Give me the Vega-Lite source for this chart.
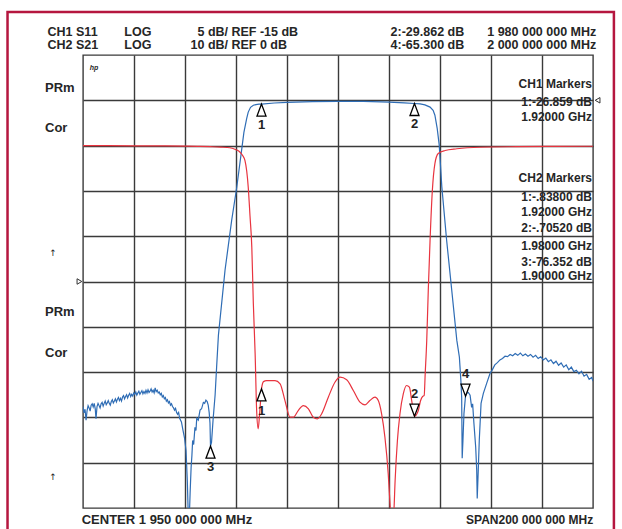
{
"$schema": "https://vega.github.io/schema/vega-lite/v6.json",
"width": 510, "height": 453,
"autosize": {"type": "none"},
"padding": {"left": 83, "top": 55, "right": 29, "bottom": 21},
"background": "white",
"config": {"view": {"stroke": "#3a3a3a", "strokeWidth": 1.4}, "text": {"font": "Liberation Sans", "color": "#262626"}},
"datasets": {
"s21": [
{"f":1850.0,"db":-67.6},{"f":1850.4,"db":-69.0},{"f":1850.8,"db":-68.2},{"f":1851.2,"db":-70.6},{"f":1851.6,"db":-68.5},{"f":1852.0,"db":-67.4},{"f":1852.4,"db":-67.9},{"f":1852.8,"db":-68.6},{"f":1853.2,"db":-67.3},{"f":1853.6,"db":-67.0},{"f":1854.0,"db":-67.7},{"f":1854.4,"db":-66.9},{"f":1854.8,"db":-68.1},{"f":1855.1,"db":-70.3},{"f":1855.5,"db":-67.6},{"f":1855.9,"db":-66.9},{"f":1856.3,"db":-67.4},{"f":1856.7,"db":-67.9},{"f":1857.1,"db":-67.0},{"f":1857.5,"db":-66.7},{"f":1857.9,"db":-67.5},{"f":1858.3,"db":-66.9},{"f":1858.7,"db":-66.4},{"f":1859.1,"db":-67.2},{"f":1859.5,"db":-66.8},{"f":1859.9,"db":-66.3},{"f":1860.3,"db":-66.9},{"f":1860.7,"db":-67.3},{"f":1861.1,"db":-66.5},{"f":1861.5,"db":-66.1},{"f":1861.9,"db":-66.8},{"f":1862.3,"db":-66.4},{"f":1862.7,"db":-65.9},{"f":1863.1,"db":-66.6},{"f":1863.5,"db":-66.0},{"f":1863.9,"db":-65.6},{"f":1864.3,"db":-66.3},{"f":1864.7,"db":-65.8},{"f":1865.1,"db":-66.4},{"f":1865.5,"db":-65.5},{"f":1865.9,"db":-65.2},{"f":1866.3,"db":-65.9},{"f":1866.7,"db":-65.4},{"f":1867.1,"db":-65.0},{"f":1867.5,"db":-65.7},{"f":1867.9,"db":-65.1},{"f":1868.3,"db":-64.7},{"f":1868.7,"db":-65.4},{"f":1869.1,"db":-64.9},{"f":1869.5,"db":-65.3},{"f":1869.9,"db":-64.6},{"f":1870.3,"db":-64.9},{"f":1870.7,"db":-64.4},{"f":1871.1,"db":-65.1},{"f":1871.5,"db":-64.6},{"f":1871.9,"db":-64.2},{"f":1872.3,"db":-64.9},{"f":1872.7,"db":-64.5},{"f":1873.1,"db":-64.1},{"f":1873.5,"db":-64.8},{"f":1873.9,"db":-64.3},{"f":1874.3,"db":-64.7},{"f":1874.7,"db":-64.0},{"f":1875.1,"db":-64.6},{"f":1875.5,"db":-63.9},{"f":1875.9,"db":-64.5},{"f":1876.3,"db":-64.2},{"f":1876.7,"db":-63.7},{"f":1877.1,"db":-64.4},{"f":1877.5,"db":-64.0},{"f":1877.9,"db":-64.6},{"f":1878.3,"db":-63.5},{"f":1878.7,"db":-64.3},{"f":1879.1,"db":-64.0},{"f":1879.5,"db":-64.6},{"f":1879.9,"db":-64.4},{"f":1880.3,"db":-65.0},{"f":1880.7,"db":-64.7},{"f":1881.1,"db":-65.5},{"f":1881.5,"db":-65.2},{"f":1881.9,"db":-65.9},{"f":1882.3,"db":-65.6},{"f":1882.7,"db":-66.4},{"f":1883.1,"db":-66.1},{"f":1883.5,"db":-66.8},{"f":1883.9,"db":-66.5},{"f":1884.3,"db":-67.3},{"f":1884.7,"db":-67.0},{"f":1885.1,"db":-67.6},{"f":1885.5,"db":-67.9},{"f":1885.9,"db":-68.4},{"f":1886.3,"db":-68.0},{"f":1886.7,"db":-68.9},{"f":1887.1,"db":-69.3},{"f":1887.5,"db":-68.9},{"f":1887.9,"db":-70.2},
{"f":1888.6,"db":-71.0},{"f":1889.2,"db":-72.8},{"f":1889.8,"db":-74.5},{"f":1890.4,"db":-77.3},{"f":1890.9,"db":-83.9},{"f":1891.3,"db":-92},{"f":1891.7,"db":-92},{"f":1892.0,"db":-86.8},{"f":1892.4,"db":-81.0},{"f":1892.7,"db":-78.5},{"f":1893.0,"db":-75.1},{"f":1893.4,"db":-76.0},{"f":1893.9,"db":-72.2},{"f":1894.3,"db":-72.9},{"f":1894.6,"db":-70.2},{"f":1895.2,"db":-70.6},{"f":1895.9,"db":-68.4},{"f":1896.5,"db":-68.1},{"f":1897.2,"db":-66.7},{"f":1897.7,"db":-66.9},{"f":1898.2,"db":-66.2},{"f":1898.7,"db":-66.5},{"f":1899.1,"db":-67.3},{"f":1899.5,"db":-69.0},{"f":1899.8,"db":-71.3},{"f":1900.0,"db":-76.35},{"f":1900.4,"db":-75.5},{"f":1901.0,"db":-70.6},{"f":1901.8,"db":-65.1},{"f":1902.4,"db":-58.9},{"f":1903.1,"db":-51.9},{"f":1905.7,"db":-37.5},{"f":1908.3,"db":-26.5},{"f":1910.3,"db":-19.2},{"f":1912.2,"db":-11.0},{"f":1913.1,"db":-7.1},{"f":1914.2,"db":-4.0},{"f":1914.8,"db":-2.6},{"f":1915.7,"db":-1.55},{"f":1916.8,"db":-1.1},{"f":1917.8,"db":-0.95},{"f":1919.0,"db":-0.86},{"f":1920.0,"db":-0.838},{"f":1925,"db":-0.6},{"f":1930,"db":-0.45},{"f":1940,"db":-0.3},{"f":1950,"db":-0.22},{"f":1960,"db":-0.25},{"f":1970,"db":-0.4},{"f":1976,"db":-0.55},{"f":1980.0,"db":-0.705},{"f":1982.2,"db":-0.8},{"f":1984.1,"db":-1.0},{"f":1986.1,"db":-1.5},{"f":1987.3,"db":-2.2},{"f":1988.0,"db":-3.3},{"f":1988.9,"db":-6.2},{"f":1989.7,"db":-9.9},{"f":1990.7,"db":-19.0},{"f":1992.6,"db":-30.9},{"f":1994.6,"db":-41.9},{"f":1996.6,"db":-53.0},{"f":1997.6,"db":-56.7},{"f":1998.2,"db":-62.0},{"f":1998.5,"db":-65.6},{"f":1998.7,"db":-79.0},{"f":1999.0,"db":-75.1},{"f":1999.4,"db":-69.1},{"f":2000.0,"db":-65.3},{"f":2000.6,"db":-64.6},{"f":2001.1,"db":-64.5},{"f":2001.8,"db":-65.1},{"f":2002.4,"db":-67.8},{"f":2002.8,"db":-67.0},{"f":2003.3,"db":-71.3},{"f":2004.0,"db":-76.6},{"f":2004.4,"db":-81.7},{"f":2004.6,"db":-87.9},{"f":2005.0,"db":-81.7},{"f":2005.4,"db":-75.1},{"f":2006.1,"db":-66.9},{"f":2007.0,"db":-64.7},{"f":2008.3,"db":-62.5},{"f":2009.6,"db":-60.3},
{"f":2010.5,"db":-59.5},{"f":2011.5,"db":-58.4},{"f":2012.5,"db":-57.9},{"f":2013.5,"db":-57.3},{"f":2014.5,"db":-57.0},{"f":2015.5,"db":-56.5},{"f":2016.5,"db":-56.6},{"f":2017.5,"db":-56.1},{"f":2018.5,"db":-56.4},{"f":2019.5,"db":-55.9},{"f":2020.5,"db":-56.3},{"f":2021.5,"db":-55.8},{"f":2022.5,"db":-56.4},{"f":2023.5,"db":-56.0},{"f":2024.5,"db":-56.5},{"f":2025.5,"db":-56.1},{"f":2026.5,"db":-56.7},{"f":2027.5,"db":-56.3},{"f":2028.5,"db":-57.0},{"f":2029.5,"db":-56.6},{"f":2030.5,"db":-57.3},{"f":2031.5,"db":-56.9},{"f":2032.5,"db":-57.7},{"f":2033.5,"db":-57.3},{"f":2034.5,"db":-58.1},{"f":2035.5,"db":-57.6},{"f":2036.5,"db":-58.5},{"f":2037.5,"db":-58.0},{"f":2038.5,"db":-58.9},{"f":2039.5,"db":-58.4},{"f":2040.5,"db":-59.5},{"f":2041.5,"db":-58.9},{"f":2042.5,"db":-59.9},{"f":2043.5,"db":-59.6},{"f":2044.5,"db":-60.4},{"f":2045.5,"db":-59.8},{"f":2046.5,"db":-60.9},{"f":2047.5,"db":-60.5},{"f":2048.5,"db":-61.6},{"f":2049.5,"db":-61.2},{"f":2050.0,"db":-62.0}
],
"s11": [
{"f":1850,"db":0.0},{"f":1860,"db":-0.01},{"f":1870,"db":-0.02},{"f":1880,"db":-0.03},{"f":1890,"db":-0.05},{"f":1896,"db":-0.08},{"f":1900,"db":-0.12},{"f":1904,"db":-0.17},{"f":1907.6,"db":-0.24},{"f":1910,"db":-0.45},{"f":1911.6,"db":-0.73},{"f":1912.6,"db":-1.1},{"f":1913.5,"db":-1.64},{"f":1914.2,"db":-2.8},{"f":1914.8,"db":-4.59},{"f":1915.5,"db":-7.8},{"f":1916.2,"db":-11.21},{"f":1916.8,"db":-17.43},{"f":1917.5,"db":-22.95},{"f":1918.1,"db":-29.24},{"f":1918.7,"db":-31.26},{"f":1919.2,"db":-29.8},{"f":1919.6,"db":-28.3},{"f":1920.0,"db":-26.86},{"f":1920.8,"db":-26.05},{"f":1922.0,"db":-25.95},{"f":1925.3,"db":-25.93},{"f":1927.3,"db":-26.29},{"f":1929.2,"db":-28.14},{"f":1931.2,"db":-29.98},{"f":1932.5,"db":-29.98},{"f":1934.4,"db":-29.24},{"f":1936.4,"db":-28.69},{"f":1938.4,"db":-29.05},{"f":1940.3,"db":-29.98},{"f":1941.9,"db":-30.16},{"f":1943.6,"db":-29.6},{"f":1946.2,"db":-27.77},{"f":1948.8,"db":-26.12},{"f":1950.8,"db":-25.56},{"f":1953.4,"db":-25.85},{"f":1956.0,"db":-27.03},{"f":1958.6,"db":-28.32},{"f":1960.6,"db":-28.61},{"f":1962.5,"db":-28.14},{"f":1964.5,"db":-27.77},{"f":1965.8,"db":-28.14},{"f":1967.1,"db":-29.6},{"f":1968.4,"db":-32.19},{"f":1969.7,"db":-36.23},{"f":1970.6,"db":-40.5},{"f":1971.0,"db":-42},{"f":1971.5,"db":-42},{"f":1971.9,"db":-40.5},{"f":1972.4,"db":-36.97},{"f":1973.3,"db":-32.55},{"f":1974.3,"db":-29.6},{"f":1975.6,"db":-27.4},{"f":1976.9,"db":-26.48},{"f":1978.0,"db":-26.67},{"f":1978.9,"db":-28.14},{"f":1980.0,"db":-29.86},{"f":1981.5,"db":-29.24},{"f":1982.4,"db":-28.14},{"f":1983.2,"db":-27.69},{"f":1983.8,"db":-27.58},{"f":1984.2,"db":-25.15},{"f":1984.8,"db":-21.51},{"f":1985.4,"db":-15.99},{"f":1986.1,"db":-10.47},{"f":1987.0,"db":-4.96},{"f":1988.0,"db":-1.98},{"f":1989.3,"db":-0.87},{"f":1992.0,"db":-0.54},{"f":1996.6,"db":-0.35},{"f":2005.7,"db":-0.18},{"f":2020,"db":-0.12},{"f":2035,"db":-0.09},{"f":2050,"db":-0.07}
],
"txtHead": [
{"f":1836.1,"db":15.08,"t":"CH1 S11"},{"f":1836.1,"db":12.21,"t":"CH2 S21"},
{"f":1866.2,"db":15.08,"t":"LOG"},{"f":1866.2,"db":12.21,"t":"LOG"},
{"f":1908.2,"db":15.08,"t":"REF -15 dB"},{"f":1908.2,"db":12.21,"t":"REF 0 dB"}
],
"txtHeadR": [
{"f":1906.9,"db":15.08,"t":"5 dB/"},{"f":1906.9,"db":12.21,"t":"10 dB/"},
{"f":1999.5,"db":15.08,"t":"2:-29.862 dB"},{"f":1999.5,"db":12.21,"t":"4:-65.300 dB"},
{"f":2051.3,"db":15.08,"t":"1 980 000 000 MHz"},{"f":2051.3,"db":12.21,"t":"2 000 000 000 MHz"}
],
"txtLeft": [
{"f":1835.1,"db":2.65,"t":"PRm"},{"f":1835.1,"db":-6.18,"t":"Cor"},
{"f":1835.1,"db":-46.67,"t":"PRm"},{"f":1835.1,"db":-55.85,"t":"Cor"},
{"f":1849.5,"db":-92.65,"t":"CENTER 1 950 000 000 MHz"}
],
"txtRight": [
{"f":2049.6,"db":3.53,"t":"CH1 Markers"},{"f":2049.6,"db":-0.44,"t":"1:-26.859 dB"},{"f":2049.6,"db":-3.62,"t":"1.92000 GHz"},
{"f":2049.6,"db":-17.22,"t":"CH2 Markers"},{"f":2049.6,"db":-21.4,"t":"1:-.83800 dB"},{"f":2049.6,"db":-24.7,"t":"1.92000 GHz"},
{"f":2049.6,"db":-28.26,"t":"2:-.70520 dB"},{"f":2049.6,"db":-32.1,"t":"1.98000 GHz"},
{"f":2049.6,"db":-35.6,"t":"3:-76.352 dB"},{"f":2049.6,"db":-38.75,"t":"1.90000 GHz"},
{"f":2050.1,"db":-92.65,"t":"SPAN200 000 000 MHz"}
],
"arrows": [{"f":1838.2,"db":-33.7,"t":"↑"},{"f":1838.2,"db":-83.09,"t":"↑"}],
"logo": [{"f":1854.3,"db":7.13,"t":"hp"}],
"refR": [{"f":1848.6,"db":-40.0}],
"refL": [{"f":2051.8,"db":0.0}],
"frame": [{"f":1820.4,"f2":2058.2,"db":19.5,"db2":-130}],
"blueUp": [{"f":1920,"db":-0.838,"n":"1"},{"f":1980,"db":-0.705,"n":"2"},{"f":1900,"db":-76.352,"n":"3"}],
"blueDown": [{"f":2000,"db":-65.3,"n":"4"}],
"redUp": [{"f":1920,"db":-26.859,"n":"1"}],
"redDown": [{"f":1980,"db":-29.862,"n":"2"}]
},
"layer": [
{"data": {"name": "s21"},
 "mark": {"type": "line", "color": "#2f6db5", "strokeWidth": 1.2, "clip": true},
 "encoding": {
  "x": {"field": "f", "type": "quantitative", "scale": {"domain": [1850, 2050], "nice": false, "zero": false},
        "axis": {"values": [1870,1890,1910,1930,1950,1970,1990,2010,2030], "grid": true, "labels": false, "ticks": false, "domain": false, "title": null, "gridColor": "#3a3a3a", "gridWidth": 1.4, "gridOpacity": 1}},
  "y": {"field": "db", "type": "quantitative", "scale": {"domain": [-90, 10], "nice": false, "zero": false},
        "axis": {"values": [-80,-70,-60,-50,-40,-30,-20,-10,0], "grid": true, "labels": false, "ticks": false, "domain": false, "title": null, "gridColor": "#3a3a3a", "gridWidth": 1.4, "gridOpacity": 1}}
 }},
{"data": {"name": "s11"},
 "mark": {"type": "line", "color": "#e8343f", "strokeWidth": 1.2, "clip": true, "interpolate": "monotone"},
 "encoding": {
  "x": {"field": "f", "type": "quantitative", "scale": {"domain": [1850, 2050], "nice": false, "zero": false}, "axis": null},
  "y": {"field": "db", "type": "quantitative", "scale": {"domain": [-40, 10], "nice": false, "zero": false}, "axis": null}
 }},
{"data": {"name": "blueUp"},
 "layer": [
  {"mark": {"type": "point", "shape": "M0,0L-0.75,2L0.75,2Z", "size": 144, "filled": true, "fill": "white", "stroke": "black", "strokeWidth": 1.3, "opacity": 1}},
  {"mark": {"type": "text", "dy": 21, "fontSize": 13, "fontWeight": "bold", "color": "#222"}, "encoding": {"text": {"field": "n"}}}
 ],
 "encoding": {
  "x": {"field": "f", "type": "quantitative", "scale": {"domain": [1850, 2050], "nice": false, "zero": false}, "axis": null},
  "y": {"field": "db", "type": "quantitative", "scale": {"domain": [-90, 10], "nice": false, "zero": false}, "axis": null}
 }},
{"data": {"name": "blueDown"},
 "layer": [
  {"mark": {"type": "point", "shape": "M0,0L-0.75,-2L0.75,-2Z", "size": 144, "filled": true, "fill": "white", "stroke": "black", "strokeWidth": 1.3, "opacity": 1}},
  {"mark": {"type": "text", "dy": -22, "fontSize": 13, "fontWeight": "bold", "color": "#222"}, "encoding": {"text": {"field": "n"}}}
 ],
 "encoding": {
  "x": {"field": "f", "type": "quantitative", "scale": {"domain": [1850, 2050], "nice": false, "zero": false}, "axis": null},
  "y": {"field": "db", "type": "quantitative", "scale": {"domain": [-90, 10], "nice": false, "zero": false}, "axis": null}
 }},
{"data": {"name": "redUp"},
 "layer": [
  {"mark": {"type": "point", "shape": "M0,0L-0.75,2L0.75,2Z", "size": 144, "filled": true, "fill": "white", "stroke": "black", "strokeWidth": 1.3, "opacity": 1}},
  {"mark": {"type": "text", "dy": 22, "fontSize": 13, "fontWeight": "bold", "color": "#222"}, "encoding": {"text": {"field": "n"}}}
 ],
 "encoding": {
  "x": {"field": "f", "type": "quantitative", "scale": {"domain": [1850, 2050], "nice": false, "zero": false}, "axis": null},
  "y": {"field": "db", "type": "quantitative", "scale": {"domain": [-40, 10], "nice": false, "zero": false}, "axis": null}
 }},
{"data": {"name": "redDown"},
 "layer": [
  {"mark": {"type": "point", "shape": "M0,0L-0.75,-2L0.75,-2Z", "size": 144, "filled": true, "fill": "white", "stroke": "black", "strokeWidth": 1.3, "opacity": 1}},
  {"mark": {"type": "text", "dy": -22, "fontSize": 13, "fontWeight": "bold", "color": "#222"}, "encoding": {"text": {"field": "n"}}}
 ],
 "encoding": {
  "x": {"field": "f", "type": "quantitative", "scale": {"domain": [1850, 2050], "nice": false, "zero": false}, "axis": null},
  "y": {"field": "db", "type": "quantitative", "scale": {"domain": [-40, 10], "nice": false, "zero": false}, "axis": null}
 }},
{"data": {"name": "txtHead"},
 "mark": {"type": "text", "align": "left", "baseline": "middle", "fontSize": 12.5, "fontWeight": "bold", "clip": false},
 "encoding": {
  "x": {"field": "f", "type": "quantitative", "scale": {"domain": [1850, 2050], "nice": false, "zero": false}, "axis": null},
  "y": {"field": "db", "type": "quantitative", "scale": {"domain": [-90, 10], "nice": false, "zero": false}, "axis": null},
  "text": {"field": "t"}
 }},
{"data": {"name": "txtHeadR"},
 "mark": {"type": "text", "align": "right", "baseline": "middle", "fontSize": 12.5, "fontWeight": "bold", "clip": false},
 "encoding": {
  "x": {"field": "f", "type": "quantitative", "scale": {"domain": [1850, 2050], "nice": false, "zero": false}, "axis": null},
  "y": {"field": "db", "type": "quantitative", "scale": {"domain": [-90, 10], "nice": false, "zero": false}, "axis": null},
  "text": {"field": "t"}
 }},
{"data": {"name": "txtLeft"},
 "mark": {"type": "text", "align": "left", "baseline": "middle", "fontSize": 13, "fontWeight": "bold", "clip": false},
 "encoding": {
  "x": {"field": "f", "type": "quantitative", "scale": {"domain": [1850, 2050], "nice": false, "zero": false}, "axis": null},
  "y": {"field": "db", "type": "quantitative", "scale": {"domain": [-90, 10], "nice": false, "zero": false}, "axis": null},
  "text": {"field": "t"}
 }},
{"data": {"name": "txtRight"},
 "mark": {"type": "text", "align": "right", "baseline": "middle", "fontSize": 12, "fontWeight": "bold", "clip": false},
 "encoding": {
  "x": {"field": "f", "type": "quantitative", "scale": {"domain": [1850, 2050], "nice": false, "zero": false}, "axis": null},
  "y": {"field": "db", "type": "quantitative", "scale": {"domain": [-90, 10], "nice": false, "zero": false}, "axis": null},
  "text": {"field": "t"}
 }},
{"data": {"name": "arrows"},
 "mark": {"type": "text", "align": "center", "baseline": "middle", "fontSize": 9, "font": "DejaVu Sans", "clip": false},
 "encoding": {
  "x": {"field": "f", "type": "quantitative", "scale": {"domain": [1850, 2050], "nice": false, "zero": false}, "axis": null},
  "y": {"field": "db", "type": "quantitative", "scale": {"domain": [-90, 10], "nice": false, "zero": false}, "axis": null},
  "text": {"field": "t"}
 }},
{"data": {"name": "logo"},
 "mark": {"type": "text", "align": "center", "baseline": "middle", "fontSize": 7, "fontStyle": "italic", "fontWeight": "bold", "clip": false},
 "encoding": {
  "x": {"field": "f", "type": "quantitative", "scale": {"domain": [1850, 2050], "nice": false, "zero": false}, "axis": null},
  "y": {"field": "db", "type": "quantitative", "scale": {"domain": [-90, 10], "nice": false, "zero": false}, "axis": null},
  "text": {"field": "t"}
 }},
{"data": {"name": "refR"},
 "mark": {"type": "point", "shape": "triangle-right", "size": 30, "filled": false, "stroke": "#333", "strokeWidth": 1, "clip": false, "opacity": 1},
 "encoding": {
  "x": {"field": "f", "type": "quantitative", "scale": {"domain": [1850, 2050], "nice": false, "zero": false}, "axis": null},
  "y": {"field": "db", "type": "quantitative", "scale": {"domain": [-90, 10], "nice": false, "zero": false}, "axis": null}
 }},
{"data": {"name": "refL"},
 "mark": {"type": "point", "shape": "triangle-left", "size": 30, "filled": false, "stroke": "#333", "strokeWidth": 1, "clip": false, "opacity": 1},
 "encoding": {
  "x": {"field": "f", "type": "quantitative", "scale": {"domain": [1850, 2050], "nice": false, "zero": false}, "axis": null},
  "y": {"field": "db", "type": "quantitative", "scale": {"domain": [-90, 10], "nice": false, "zero": false}, "axis": null}
 }},
{"data": {"name": "frame"},
 "mark": {"type": "rect", "filled": false, "stroke": "#b5163f", "strokeWidth": 2.5, "clip": false},
 "encoding": {
  "x": {"field": "f", "type": "quantitative", "scale": {"domain": [1850, 2050], "nice": false, "zero": false}, "axis": null},
  "x2": {"field": "f2"},
  "y": {"field": "db", "type": "quantitative", "scale": {"domain": [-90, 10], "nice": false, "zero": false}, "axis": null},
  "y2": {"field": "db2"}
 }}
],
"resolve": {"scale": {"y": "independent"}, "axis": {"x": "independent"}}
}
